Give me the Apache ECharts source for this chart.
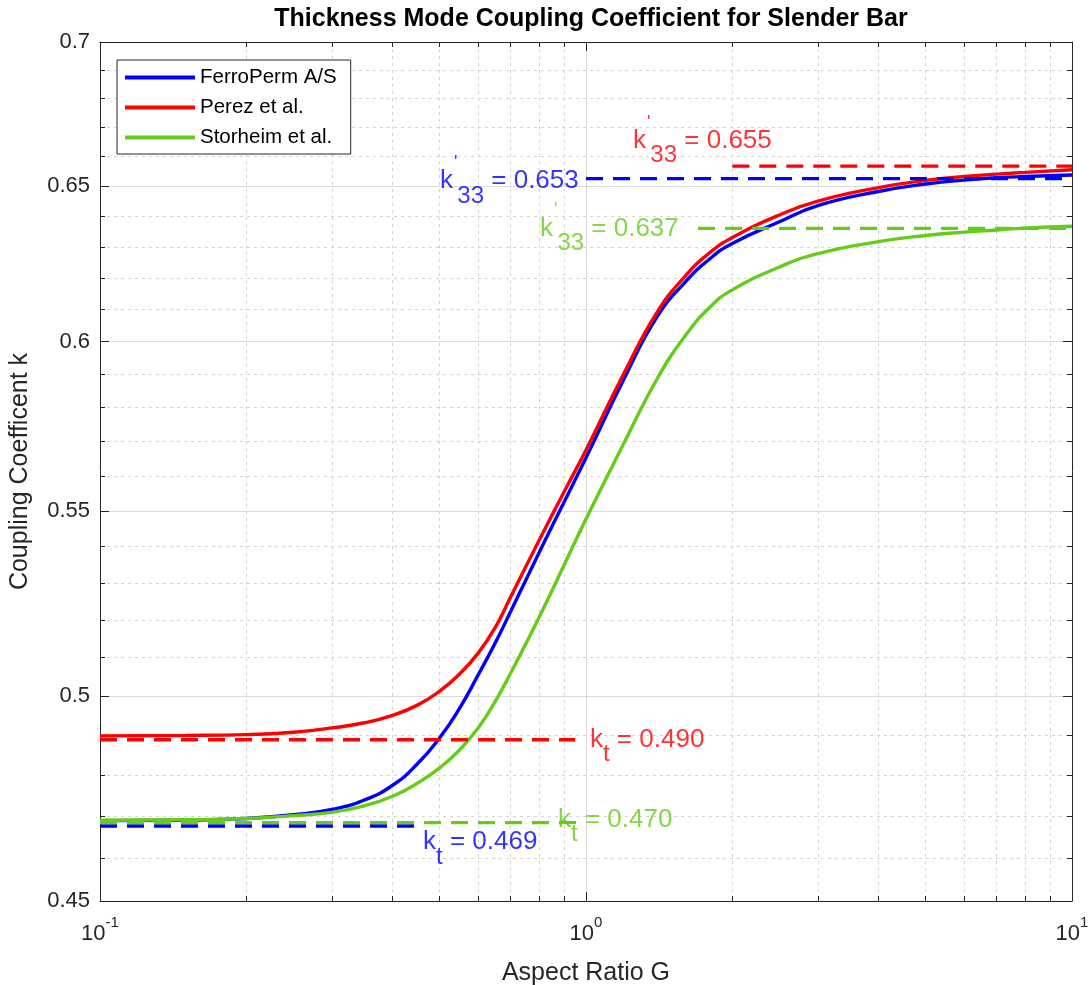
<!DOCTYPE html>
<html>
<head>
<meta charset="utf-8">
<script src="https://cdn.jsdelivr.net/npm/echarts@6/dist/echarts.min.js"></script>
<style>
  html, body { margin: 0; padding: 0; background: #fff; }
  #chart { width: 1092px; height: 985px; }
</style>
</head>
<body>
<div id="chart"></div>
<script>
(function() {
    'use strict';

    // aspect ratio G (x, log)
    var ratioG = [0.1, 0.15, 0.2, 0.25, 0.3, 0.35, 0.4, 0.45, 0.5, 0.55, 0.6, 0.65, 0.7, 0.8, 0.9,
                  1.0, 1.2, 1.4, 1.6, 1.8, 2, 2.5, 3, 4, 5, 6, 7, 8, 10];
    // coupling coefficient k per source
    var ferroPerm = [0.4690, 0.4691, 0.4695, 0.4704, 0.4717, 0.4740, 0.4776, 0.4829, 0.4894, 0.4970,
                     0.5055, 0.5138, 0.5223, 0.5382, 0.5523, 0.5652, 0.5889, 0.6077, 0.6187, 0.6262,
                     0.6311, 0.6382, 0.6435, 0.6482, 0.6507, 0.6520, 0.6528, 0.6532, 0.6537];
    var perez = [0.4899, 0.4900, 0.4902, 0.4908, 0.4919, 0.4932, 0.4951, 0.4977, 0.5013, 0.5058,
                 0.5112, 0.5179, 0.5262, 0.5416, 0.5552, 0.5675, 0.5906, 0.6091, 0.6206, 0.6282,
                 0.6330, 0.6404, 0.6450, 0.6495, 0.6519, 0.6532, 0.6540, 0.6546, 0.6555];
    var storheim = [0.4691, 0.4692, 0.4695, 0.4702, 0.4710, 0.4726, 0.4749, 0.4781, 0.4819, 0.4864,
                    0.4919, 0.4986, 0.5060, 0.5206, 0.5347, 0.5477, 0.5698, 0.5886, 0.6018, 0.6108,
                    0.6162, 0.6235, 0.6278, 0.6317, 0.6337, 0.6348, 0.6355, 0.6361, 0.6367];

    // limit lines: [G start, G end, k]
    var k33Ferro = [1.0, 10, 0.6525];
    var k33Perez = [2.0, 10, 0.6567];
    var k33Storheim = [1.7, 10, 0.6360];
    var ktFerro = [0.1, 0.46, 0.4677];
    var ktPerez = [0.1, 0.95, 0.4889];
    var ktStorheim = [0.1, 0.97, 0.4685];

    var yMajor = [0.45, 0.5, 0.55, 0.6, 0.65, 0.7];
    var yMinor = [0.46, 0.47, 0.48, 0.49, 0.51, 0.52, 0.53, 0.54, 0.56, 0.57, 0.58, 0.59,
                  0.61, 0.62, 0.63, 0.64, 0.66, 0.67, 0.68, 0.69];
    var xMinor = [0.2, 0.3, 0.4, 0.5, 0.6, 0.7, 0.8, 0.9, 2, 3, 4, 5, 6, 7, 8, 9];

    var BLUE = '#0000ff', RED = '#ff0000', GREEN = '#66cc1a', INK = '#262626';
    var FONT = 'Liberation Sans, Arial, Helvetica, sans-serif';

    function zip(xs, ys) {
        return xs.map(function(x, i) { return [x, ys[i]]; });
    }
    function limitLine(l) {
        return [[l[0], l[2]], [l[1], l[2]]];
    }

    var myChart = echarts.init(document.getElementById('chart'), null, {renderer: 'canvas'});

    var xBase = {type: 'log', logBase: 10, min: 0.1, max: 10, gridIndex: 0};
    var yBase = {type: 'log', logBase: 10, min: 0.45, max: 0.7, gridIndex: 0};

    function xAxis(extra) { return Object.assign({}, xBase, extra); }
    function yAxis(extra) { return Object.assign({}, yBase, extra); }

    var noLabel = {show: false};

    var option = {
        animation: false,
        backgroundColor: '#fff',
        textStyle: {fontFamily: FONT},
        title: {
            text: 'Thickness Mode Coupling Coefficient for Slender Bar',
            left: 586, top: 2, textAlign: 'center',
            textStyle: {fontSize: 25, fontWeight: 'bold', color: '#000', fontFamily: FONT}
        },
        grid: {left: 100, right: 20, top: 42, bottom: 84, containLabel: false, outerBoundsMode: 'none'},
        legend: {
            data: ['FerroPerm A/S', 'Perez et al.', 'Storheim et al.'],
            orient: 'vertical',
            left: 117, top: 60,
            padding: [7, 14, 6, 8],
            itemGap: 9,
            itemWidth: 70, itemHeight: 4,
            icon: 'rect',
            backgroundColor: '#fff',
            borderColor: INK, borderWidth: 1,
            textStyle: {fontSize: 20.5, color: '#000', fontFamily: FONT}
        },
        xAxis: [
            xAxis({
                position: 'bottom',
                name: 'Aspect Ratio G', nameLocation: 'middle', nameGap: 60,
                nameTextStyle: {fontSize: 25, color: INK, fontFamily: FONT},
                axisLine: {show: true, lineStyle: {color: INK, width: 1}},
                axisTick: {show: true, inside: true, length: 9, lineStyle: {color: INK}},
                axisLabel: {
                    margin: 14, color: INK,
                    formatter: function(v) {
                        return '{b|10}{s|' + Math.round(Math.log10(v)) + '}';
                    },
                    rich: {
                        b: {fontSize: 22, color: INK, fontFamily: FONT, lineHeight: 30, verticalAlign: 'bottom'},
                        s: {fontSize: 15, color: INK, fontFamily: FONT, lineHeight: 30, verticalAlign: 'top'}
                    }
                },
                splitLine: {show: true, lineStyle: {color: '#dcdcdc', width: 1}}
            }),
            xAxis({
                position: 'bottom',
                axisLine: {show: false},
                axisTick: {show: true, inside: true, length: 5, customValues: xMinor, lineStyle: {color: INK}},
                axisLabel: {show: false, customValues: xMinor},
                splitLine: {show: true, lineStyle: {color: '#d4d4d4', width: 1, type: [3, 4]}}
            }),
            xAxis({
                position: 'top',
                axisLine: {show: true, lineStyle: {color: INK, width: 1}},
                axisTick: {show: true, inside: true, length: 9, lineStyle: {color: INK}},
                axisLabel: noLabel,
                splitLine: {show: false}
            }),
            xAxis({
                position: 'top',
                axisLine: {show: false},
                axisTick: {show: true, inside: true, length: 5, customValues: xMinor, lineStyle: {color: INK}},
                axisLabel: {show: false, customValues: xMinor},
                splitLine: {show: false}
            })
        ],
        yAxis: [
            yAxis({
                position: 'left',
                name: 'Coupling Coefficent k', nameLocation: 'middle', nameGap: 67, nameRotate: 90,
                nameTextStyle: {fontSize: 25, color: INK, fontFamily: FONT},
                axisLine: {show: true, lineStyle: {color: INK, width: 1}},
                axisTick: {show: true, inside: true, length: 9, customValues: yMajor, lineStyle: {color: INK}},
                axisLabel: {
                    show: true, customValues: yMajor, margin: 10,
                    fontSize: 22, color: INK, fontFamily: FONT,
                    formatter: function(v) { return String(+(+v).toFixed(2)); }
                },
                splitLine: {show: true, lineStyle: {color: '#dcdcdc', width: 1}}
            }),
            yAxis({
                position: 'left',
                axisLine: {show: false},
                axisTick: {show: true, inside: true, length: 5, customValues: yMinor, lineStyle: {color: INK}},
                axisLabel: {show: false, customValues: yMinor},
                splitLine: {show: true, lineStyle: {color: '#d4d4d4', width: 1, type: [3, 4]}}
            }),
            yAxis({
                position: 'right',
                axisLine: {show: true, lineStyle: {color: INK, width: 1}},
                axisTick: {show: true, inside: true, length: 9, customValues: yMajor, lineStyle: {color: INK}},
                axisLabel: {show: false, customValues: yMajor},
                splitLine: {show: false}
            }),
            yAxis({
                position: 'right',
                axisLine: {show: false},
                axisTick: {show: true, inside: true, length: 5, customValues: yMinor, lineStyle: {color: INK}},
                axisLabel: {show: false, customValues: yMinor},
                splitLine: {show: false}
            })
        ],
        series: []
    };

    function curve(name, values, color) {
        return {
            name: name, type: 'line', xAxisIndex: 0, yAxisIndex: 0,
            data: zip(ratioG, values),
            smooth: 0.5, showSymbol: false, symbol: 'none',
            lineStyle: {color: color, width: 3.4},
            itemStyle: {color: color},
            z: 3
        };
    }
    function dashed(l, color) {
        return {
            type: 'line', xAxisIndex: 0, yAxisIndex: 0,
            data: limitLine(l), showSymbol: false, symbol: 'none', silent: true,
            lineStyle: {color: color, width: 3.4, type: [17, 10]},
            z: 4
        };
    }

    var richLabel = function(color) {
        var base = {color: color, fontFamily: FONT};
        return {
            k: Object.assign({fontSize: 26, lineHeight: 54}, base),
            p: Object.assign({fontSize: 18, lineHeight: 34, verticalAlign: 'top', padding: [0, 0, 0, 1]}, base),
            s: Object.assign({fontSize: 24, lineHeight: 24, verticalAlign: 'bottom'}, base),
            t: Object.assign({fontSize: 26, lineHeight: 54}, base)
        };
    };
    function note(G, k, text, color) {
        return {
            value: [G, k],
            label: {
                show: true, position: 'right', distance: 0,
                formatter: text,
                rich: richLabel(color)
            }
        };
    }

    option.series.push(curve('FerroPerm A/S', ferroPerm, BLUE));
    option.series.push(curve('Perez et al.', perez, RED));
    option.series.push(curve('Storheim et al.', storheim, GREEN));
    option.series.push(dashed(k33Ferro, BLUE));
    option.series.push(dashed(k33Perez, RED));
    option.series.push(dashed(k33Storheim, GREEN));
    option.series.push(dashed(ktPerez, RED));
    option.series.push(dashed(ktFerro, BLUE));
    option.series.push(dashed(ktStorheim, GREEN));
    option.series.push({
        type: 'scatter', xAxisIndex: 0, yAxisIndex: 0,
        symbolSize: 0, silent: true, z: 5,
        data: [
            note(1.249, 0.6654, "{k|k}{p|'}{s|33}{t| = 0.655}", RED),
            note(0.5005, 0.6517, "{k|k}{p|'}{s|33}{t| = 0.653}", BLUE),
            note(0.804, 0.6360, "{k|k}{p|'}{s|33}{t| = 0.637}", GREEN),
            note(1.019, 0.4889, "{k|k}{s|t}{t| = 0.490}", RED),
            note(0.876, 0.4693, "{k|k}{s|t}{t| = 0.470}", GREEN),
            note(0.462, 0.4638, "{k|k}{s|t}{t| = 0.469}", BLUE)
        ]
    });

    myChart.setOption(option);
})();
</script>
</body>
</html>
